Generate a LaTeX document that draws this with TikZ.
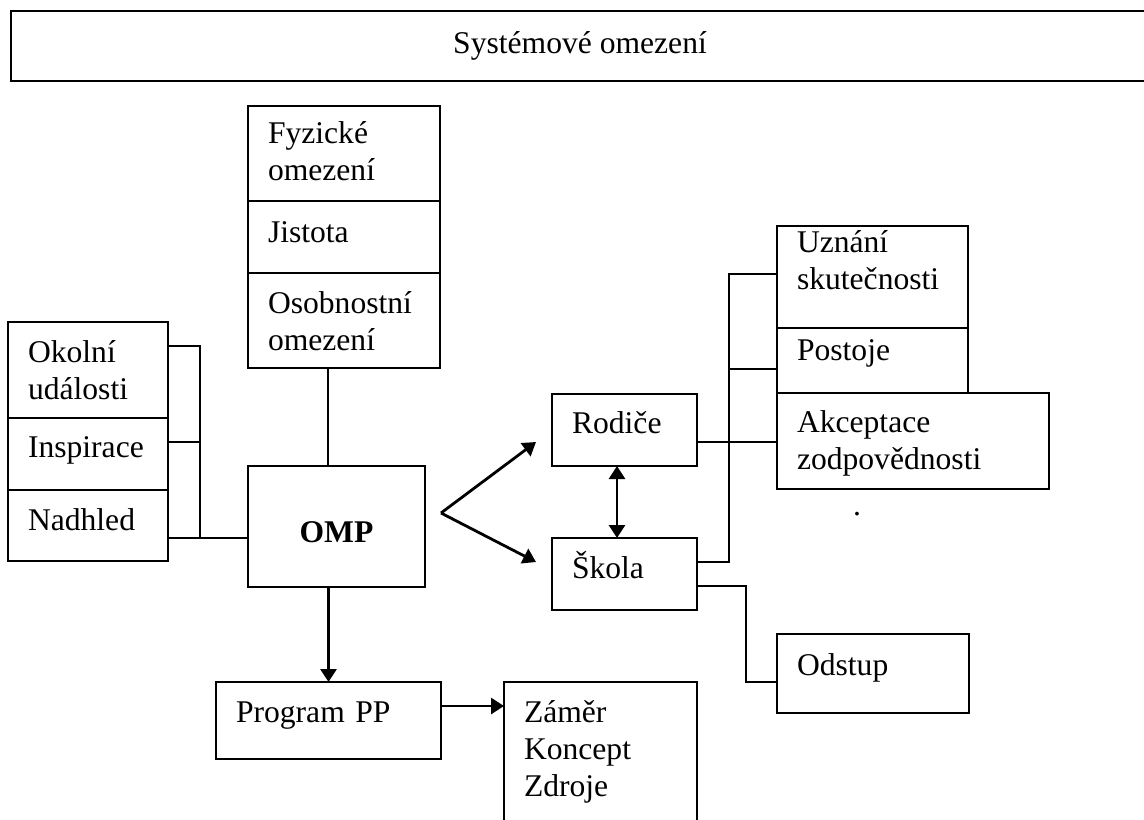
\documentclass[tikz,border=0pt]{standalone}
\usepackage{fontspec}
\setmainfont{Liberation Serif}
\usepackage{tikz}
\usetikzlibrary{arrows.meta}
\newcommand{\diafont}{\fontsize{15.8pt}{18.5pt}\selectfont}

\begin{document}
\begin{tikzpicture}[x=0.5pt,y=-0.5pt,line width=1.4pt,
    box/.style={draw, anchor=north west, align=left, inner xsep=10pt, inner ysep=0pt, outer sep=0pt, font=\diafont},
    arr/.style={-{Triangle[length=6.5pt,width=8pt]}}]
    \useasboundingbox (0,0) rectangle (1144,819);

    % System frame at the top
    \node[draw, anchor=north west, minimum width=569pt, minimum height=35pt, outer sep=0pt, font=\diafont] (sys) at (11,11) {Systémové omezení};

    % Left stack
    \node[box, text width=60pt, text height=20pt, text depth=28pt] (okolni) at (8,322) {Okolní\\události};
    \node[box, text width=60pt, text height=19.5pt, text depth=16.5pt] (inspirace) at (okolni.south west) {Inspirace};
    \node[box, text width=60pt, text height=20pt, text depth=15.5pt] (nadhled) at (inspirace.south west) {Nadhled};

    % Upper stack
    \node[box, text width=76pt, text height=18.5pt, text depth=29pt] (fyzicke) at (248,106) {Fyzické\\omezení};
    \node[box, text width=76pt, text height=20.5pt, text depth=15.5pt] (jistota) at (fyzicke.south west) {Jistota};
    \node[box, text width=76pt, text height=20pt, text depth=27.5pt] (osobnostni) at (jistota.south west) {Osobnostní\\omezení};

    % Centre
    \node[box, align=center, text width=68.5pt, text height=38pt, text depth=22.5pt, font=\diafont\bfseries] (omp) at (248,466) {OMP};

    % Bottom
    \node[box, text width=92.5pt, text height=20pt, text depth=18.5pt] (program) at (216,682) {Program PP};
    \node[box, text width=76.5pt, text height=20pt, text depth=59pt] (zamer) at (504,682) {Záměr\\Koncept\\Zdroje};

    % Middle right
    \node[box, text width=52.5pt, text height=19.5pt, text depth=16.5pt] (rodice) at (552,394) {Rodiče};
    \node[box, text width=52.5pt, text height=20pt, text depth=16pt] (skola) at (552,538) {Škola};

    % Right stack
    \node[box, text width=75.5pt, text height=13pt, text depth=38pt] (uznani) at (777,226) {Uznání\\skutečnosti};
    \node[box, text width=75.5pt, text height=16pt, text depth=16.5pt] (postoje) at (uznani.south west) {Postoje};
    \node[box, text width=116pt, text height=19.5pt, text depth=28.5pt] (akceptace) at (postoje.south west) {Akceptace\\zodpovědnosti};
    \node[box, text width=76pt, text height=20.5pt, text depth=19pt] (odstup) at (777,634) {Odstup};
    \node[font=\diafont, anchor=base, inner sep=0pt] (tecka) at (857,515) {.};

    % Left connectors
    \coordinate (lbus) at (200,538);
    \draw ([yshift=12pt]okolni.east) -| (lbus);
    \draw ([yshift=6pt]inspirace.east) -- ([yshift=6pt]inspirace.east -| lbus);
    \draw (nadhled.east |- lbus) -- (lbus -| omp.west);

    % Upper stack to OMP, OMP to program
    \draw ([xshift=-4.25pt]omp.north) -- ([xshift=-4.25pt]omp.north |- osobnostni.south);
    \draw[arr] (omp.south -| program.north) -- (program.north);
    \draw[arr] ([yshift=7.25pt]program.east) -- ([yshift=7.25pt]program.east -| zamer.west);

    % Fork to parents and school
    \coordinate (fork) at (441,513);
    \draw[arr] (fork) -- ([xshift=-8pt,yshift=-6pt]rodice.west);
    \draw[arr] (fork) -- ([xshift=-8pt,yshift=6pt]skola.west);
    \draw[{Triangle[length=6.5pt,width=8pt]}-{Triangle[length=6.5pt,width=8pt]}] ([xshift=-3.75pt]rodice.south) -- ([xshift=-3.75pt]skola.north);

    % Right connectors
    \coordinate (rtop) at (729,274);
    \draw ([yshift=6pt]skola.east) -| (rtop) -- (rtop -| uznani.west);
    \draw ([yshift=-4.25pt]postoje.west) -- ([yshift=-4.25pt]postoje.west -| rtop);
    \draw ([yshift=-6pt]rodice.east) -- ([yshift=-6pt]rodice.east -| akceptace.west);
    \draw ([yshift=-6pt]skola.east) -- ++(49,0) |- ([yshift=-4.25pt]odstup.west);
\end{tikzpicture}
\end{document}
